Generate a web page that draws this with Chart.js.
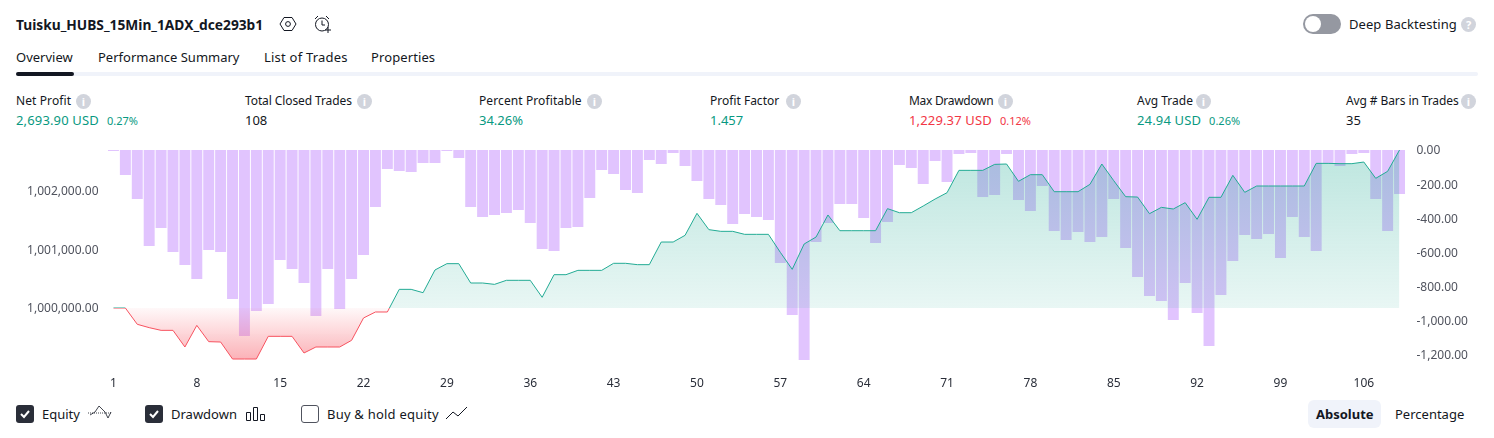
<!DOCTYPE html>
<html><head><meta charset="utf-8">
<script src="https://cdn.jsdelivr.net/npm/chart.js@4/dist/chart.umd.js"></script>
<style>
html,body{margin:0;padding:0;background:#fff;width:1494px;height:438px;overflow:hidden}
body{font-family:"Noto Sans",sans-serif;color:#131722;position:relative}
.t{position:absolute;white-space:nowrap;line-height:18px;font-size:13px}
.abs{position:absolute}
canvas{position:absolute;left:0;top:130px}
.info{position:absolute;width:15px;height:15px;border-radius:50%;background:#d1d4dc;color:#fff;font-size:11px;font-weight:700;line-height:15px;text-align:center}
.cb{position:absolute;top:405px;width:18px;height:18px;box-sizing:border-box;border-radius:3px;background:#2a2e39}
.cb.off{background:#fff;border:1px solid #50535e}
.g{color:#089981}.r{color:#f23645}
.s{font-size:11px;margin-left:8px;letter-spacing:0}
.v{letter-spacing:.15px}
</style></head><body>
<div class="t" style="left:16px;top:16px;font-weight:700;font-size:13.75px">Tuisku_HUBS_15Min_1ADX_dce293b1</div>
<svg class="abs" style="left:279px;top:15px" width="18" height="18" viewBox="0 0 18 18" fill="none" stroke="#131722"><path d="M5 2.5h8L17 9l-4 6.5H5L1 9z"/><circle cx="9" cy="9" r="2.4"/></svg>
<svg class="abs" style="left:313px;top:14px" width="20" height="20" viewBox="0 0 20 20" fill="none" stroke="#131722"><circle cx="9" cy="10.5" r="6.5"/><path d="M9 6.5v4.5h3M2 5l3-3M13 2l3 3M15 13v6M12 16h6"/></svg>
<div class="abs" style="left:1303px;top:14px;width:38px;height:20px;border-radius:10px;background:#9598a1"></div>
<div class="abs" style="left:1305px;top:16px;width:16px;height:16px;border-radius:50%;background:#fff"></div>
<div class="t" style="left:1349px;top:15px;letter-spacing:.07px">Deep Backtesting</div>
<div class="info" style="left:1461px;top:17px">?</div>

<div class="t" style="left:16px;top:48px">Overview</div>
<div class="t" style="left:98px;top:48px">Performance Summary</div>
<div class="t" style="left:264px;top:48px;letter-spacing:.22px">List of Trades</div>
<div class="t" style="left:371px;top:48px;letter-spacing:.1px">Properties</div>
<div class="abs" style="left:16px;top:72px;width:1462px;height:4px;background:#f0f3fa;border-radius:2px"></div>
<div class="abs" style="left:16px;top:72px;width:58px;height:4px;background:#131722;border-radius:2px"></div>

<div class="t" style="left:16px;top:92px;font-size:12px;letter-spacing:.1px">Net Profit</div><div class="info" style="left:76px;top:94px">i</div>
<div class="t g v" style="left:16px;top:111px">2,693.90 USD<span class="s">0.27%</span></div>
<div class="t" style="left:245px;top:92px;font-size:12px;letter-spacing:-.1px">Total Closed Trades</div><div class="info" style="left:357px;top:94px">i</div>
<div class="t" style="left:245px;top:111px">108</div>
<div class="t" style="left:479px;top:92px;font-size:12px;letter-spacing:.1px">Percent Profitable</div><div class="info" style="left:587px;top:94px">i</div>
<div class="t g" style="left:479px;top:111px">34.26%</div>
<div class="t" style="left:710px;top:92px;font-size:12px">Profit Factor</div><div class="info" style="left:786px;top:94px">i</div>
<div class="t g" style="left:710px;top:111px">1.457</div>
<div class="t" style="left:909px;top:92px;font-size:12px;letter-spacing:-.3px">Max Drawdown</div><div class="info" style="left:998px;top:94px">i</div>
<div class="t r v" style="left:909px;top:111px">1,229.37 USD<span class="s">0.12%</span></div>
<div class="t" style="left:1137px;top:92px;font-size:12px">Avg Trade</div><div class="info" style="left:1196px;top:94px">i</div>
<div class="t g v" style="left:1137px;top:111px">24.94 USD<span class="s">0.26%</span></div>
<div class="t" style="left:1346px;top:92px;font-size:12px;letter-spacing:-.1px">Avg # Bars in Trades</div><div class="info" style="left:1461px;top:94px">i</div>
<div class="t" style="left:1346px;top:111px">35</div>

<canvas id="c" width="1494" height="270" style="width:1494px;height:270px"></canvas>

<div class="cb" style="left:16px"><svg width="18" height="18" fill="none" stroke="#fff" stroke-width="2"><path d="M5 9l3 3 5-6"/></svg></div>
<div class="t" style="left:42px;top:405px">Equity</div>
<svg class="abs" style="left:87px;top:404px" width="26" height="18" fill="none" stroke="#131722" stroke-width=".8"><path d="M1 9h24" stroke-dasharray="1 1"/><path d="M3 11l5-3 4-6 3 3 3 3 3 6 3-6"/></svg>
<div class="cb" style="left:145px"><svg width="18" height="18" fill="none" stroke="#fff" stroke-width="2"><path d="M5 9l3 3 5-6"/></svg></div>
<div class="t" style="left:171px;top:405px">Drawdown</div>
<svg class="abs" style="left:246px;top:406px" width="20" height="16" fill="none" stroke="#131722"><path d="M.5 6.5h4v8h-4zM7.5 1.5h4v13h-4zM14.5 8.5h4v6h-4z"/></svg>
<div class="cb off" style="left:301px"></div>
<div class="t" style="left:327px;top:405px;letter-spacing:.22px">Buy &amp; hold equity</div>
<svg class="abs" style="left:445px;top:405px" width="24" height="16" fill="none" stroke="#131722"><path d="M1 14l7-7 5 4 9-9"/></svg>
<div class="abs" style="left:1308px;top:400px;width:73px;height:28px;border-radius:6px;background:#f0f3fa"></div>
<div class="t" style="left:1316px;top:405px;font-weight:700">Absolute</div>
<div class="t" style="left:1395px;top:405px">Percentage</div>

<script>
const categories = Array.from({length:109},(_,i)=>String(i+1));
const tradeTickStep = 7;
const equityValues = [0,0,-278,-335,-381,-381,-665,-296,-574,-580,-870,-870,-870,-483,-483,-483,-767,-665,-665,-665,-551,-170,-68,-68,318,318,261,648,
756,756,426,426,403,472,472,472,182,568,568,642,642,642,762,762,739,739,1125,1125,1239,1614,1336,1307,1307,1256,1256,
1256,949,659,1091,1210,1586,1318,1318,1318,1318,1694,1625,1625,1739,1858,1966,2347,2347,2347,2449,2455,2160,2273,2273,1983,1983,1983,2108,
2455,2171,1898,1892,1608,1716,1688,1796,1512,1887,1887,2262,1972,2080,2080,2080,2080,2080,2466,2466,2461,2461,2489,2211,2330,2693.9];
const drawdownValues = [-6,-146,-287,-562,-457,-597,-673,-755,-586,-597,-872,-1089,-942,-901,-644,-697,-779,-972,-697,-931,-755,-615,-334,-111,-123,-129,-76,-76,
-6,-47,-334,-392,-381,-369,-351,-427,-580,-591,-457,-451,-281,-117,-140,-234,-252,-59,-82,-18,-94,-181,-287,-322,-433,-375,-392,
-410,-662,-966,-1229.37,-539,-427,-316,-316,-398,-545,-422,-88,-105,-199,-64,-187,-23,-18,-275,-263,-23,-293,-357,-211,-474,-527,-480,-539,
-509,-287,-574,-744,-855,-884,-995,-779,-954,-1148,-849,-650,-498,-521,-492,-632,-392,-509,-591,-78,-94,-23,-18,-287,-474,-258];
const equityAxisTicks = [0,1000,2000];
const drawdownAxisTicks = [0,-200,-400,-600,-800,-1000,-1200];
const equityBase = 1000000;
const equityRange = [-886.6,2693.9];
const drawdownRange = [-1229.37,0];
const fontFamily = '"Noto Sans",sans-serif';
const fmt = v => v.toLocaleString('en-US',{minimumFractionDigits:2,maximumFractionDigits:2});

function vGrad(ctx,y0,y1,stops){const g=ctx.createLinearGradient(0,y0,0,y1);stops.forEach(([o,c])=>g.addColorStop(o,c));return g;}
function nudgeLabels(s,dy){
  if(s._nudged)return; s._nudged=true;
  const d=s.drawLabels;
  s.drawLabels=function(a){const c=this.ctx;c.save();c.translate(0,dy);d.call(this,a);c.restore();};
}
const chart = new Chart(document.getElementById('c'),{
  data:{labels:categories,datasets:[
    {type:'line',label:'Equity',data:equityValues,yAxisID:'yE',order:0,borderWidth:1,pointRadius:0,tension:0,
     borderColor:c=>{const a=c.chart.chartArea;if(!a)return '#22ab94';const z=c.chart.scales.yE.getPixelForValue(0);const t=(z-a.top)/(a.bottom-a.top);
       return vGrad(c.chart.ctx,a.top,a.bottom,[[0,'#22ab94'],[t,'#22ab94'],[t,'#f7525f'],[1,'#f7525f']]);},
     backgroundColor:'transparent',
     fill:{target:{value:0},above:'rgba(34,171,148,.25)',below:'rgba(247,82,95,.3)'}},
    {type:'bar',label:'Drawdown',data:drawdownValues,yAxisID:'yD',order:1,backgroundColor:'#e1c4fe',borderWidth:0,barPercentage:.92,categoryPercentage:1}
  ]},
  plugins:[{id:'grad',beforeDatasetsDraw(ch){
    const a=ch.chartArea,z=ch.scales.yE.getPixelForValue(0),f=ch.data.datasets[0].fill;
    f.above=vGrad(ch.ctx,a.top,z,[[0,'rgba(34,171,148,.30)'],[1,'rgba(34,171,148,.10)']]);
    f.below=vGrad(ch.ctx,z,a.bottom,[[0,'rgba(247,82,95,.04)'],[1,'rgba(247,82,95,.45)']]);
    ch.getDatasetMeta(0).dataset.options.fill=f;
  }}],
  options:{responsive:false,animation:false,devicePixelRatio:1,
    layout:{padding:{top:20,left:0,right:0,bottom:0}},
    plugins:{legend:{display:false},tooltip:{enabled:false}},
    scales:{
      x:{offset:true,grid:{display:false,drawTicks:false},border:{display:false},
         afterFit:s=>{s.height=40;},
         ticks:{autoSkip:false,maxRotation:0,padding:16,color:'#2a2e39',font:{size:12,family:fontFamily},
           callback(v,i){return i%tradeTickStep===0?categories[i]:'';}}},
      yE:{position:'left',min:equityRange[0],max:equityRange[1],grid:{display:false,drawTicks:false},border:{display:false},
         afterFit:s=>{s.width=107.5;nudgeLabels(s,1);},
         afterBuildTicks:s=>{s.ticks=equityAxisTicks.map(value=>({value}));},
         ticks:{padding:9,color:'#50535e',font:{size:12,family:fontFamily},callback:v=>fmt(equityBase+v)}},
      yD:{position:'right',min:drawdownRange[0],max:drawdownRange[1],grid:{display:false,drawTicks:false},border:{display:false},
         afterFit:s=>{s.width=88.5;nudgeLabels(s,1);},
         afterBuildTicks:s=>{s.ticks=drawdownAxisTicks.map(value=>({value}));},
         ticks:{padding:11,color:'#50535e',font:{size:12,family:fontFamily},callback:v=>fmt(v)}}
    }}
});
</script>
</body></html>
